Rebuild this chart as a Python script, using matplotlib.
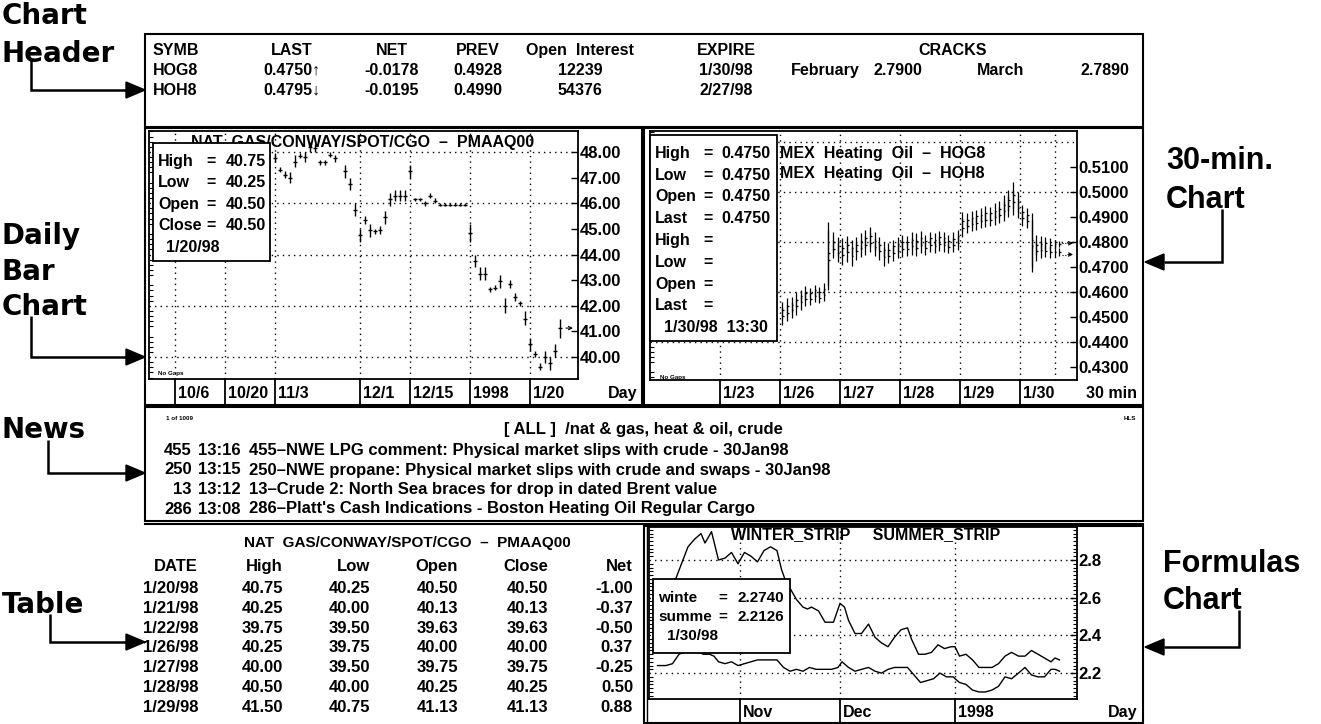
import matplotlib.pyplot as plt
import numpy as np
from matplotlib.patches import Rectangle, Polygon
from matplotlib.ticker import MultipleLocator, FormatStrFormatter
from matplotlib.transforms import blended_transform_factory, offset_copy

W, H = 1321, 724
TXT = ['Liberation Sans', 'DejaVu Sans']
NUM = ['Liberation Sans Narrow', 'Liberation Sans', 'DejaVu Sans']
plt.rcParams['font.family'] = TXT
plt.rcParams['font.weight'] = 'bold'
FS = 11.5

# ---- header quote board
hdr_symb = ['HOG8', 'HOH8']
hdr_last = ['0.4750\u2191', '0.4795\u2193']
hdr_net = ['-0.0178', '-0.0195']
hdr_prev = ['0.4928', '0.4990']
hdr_oi = ['12239', '54376']
hdr_expire = ['1/30/98', '2/27/98']
crack_months = ['February', 'March']
crack_values = ['2.7900', '2.7890']

# ---- daily bars NAT GAS/CONWAY/SPOT/CGO (slot = trading day, 11/3 = 0)
d_slot = [0, 1, 2, 3, 4, 5, 6, 7, 8, 9, 10, 11, 12,
          14, 15, 16, 17, 18, 19, 20, 21, 22, 23, 24, 25, 26, 27, 28, 29, 30,
          31, 32, 33, 34, 35, 36, 37, 38, 39, 40, 41, 42, 43, 44, 45, 46, 47,
          48, 49, 50, 51, 52, 53, 54, 55, 56, 57]
d_high = [47.95, 47.4, 47.25, 47.2, 47.9, 47.95, 48.0, 48.4, 48.3, 47.7, 47.7, 48.0, 47.9,
          47.5, 47.0, 46.0, 45.0, 45.5, 45.2, 45.0, 45.1, 45.7, 46.4, 46.5, 46.5, 46.5, 47.5,
          46.2, 46.2, 46.1, 46.4, 46.2, 46.0, 46.0, 46.0, 46.0, 46.0, 46.0, 45.2, 44.0, 43.5,
          43.5, 42.75, 42.8, 43.2, 42.3, 43.0, 42.5, 42.2, 41.8, 40.75, 40.25, 39.75, 40.25,
          40.0, 40.5, 41.5]
d_low = [47.6, 47.2, 47.0, 46.8, 47.4, 47.75, 47.6, 48.0, 48.0, 47.5, 47.5, 47.8, 47.6,
         47.0, 46.5, 45.5, 44.5, 45.2, 44.7, 44.8, 44.8, 45.2, 45.9, 46.1, 46.1, 46.1, 47.0,
         46.1, 46.1, 45.9, 46.2, 46.0, 45.9, 45.9, 45.9, 45.9, 45.9, 45.9, 44.5, 43.5, 43.0,
         43.0, 42.55, 42.6, 42.7, 41.7, 42.7, 42.2, 42.0, 41.25, 40.25, 40.0, 39.5, 39.75,
         39.5, 40.0, 40.75]
d_close = [47.75, 47.3, 47.1, 47.0, 47.6, 47.85, 47.8, 48.2, 48.15, 47.6, 47.6, 47.9, 47.75,
           47.25, 46.75, 45.75, 44.75, 45.35, 44.95, 44.9, 44.95, 45.45, 46.15, 46.3, 46.3,
           46.3, 47.25, 46.15, 46.15, 46.0, 46.3, 46.1, 45.95, 45.95, 45.95, 45.95, 45.95,
           45.95, 44.85, 43.75, 43.25, 43.25, 42.65, 42.7, 42.95, 42.0, 42.85, 42.35, 42.1,
           41.5, 40.5, 40.13, 39.63, 40.0, 39.75, 40.25, 41.13]
d_tick_pos = [-20, -10, 0, 17, 27, 39, 51]
d_tick_lab = ['10/6', '10/20', '11/3', '12/1', '12/15', '1998', '1/20']
d_info = [('High', '40.75'), ('Low', '40.25'), ('Open', '40.50'), ('Close', '40.50')]

# ---- 30-min bars (slot = half hour, 1/26 first bar = 0); A = HOH8, B = HOG8
m_hi_a = [0.4560, 0.4575, 0.4580, 0.4600, 0.4610, 0.4625, 0.4615, 0.4630, 0.4620, 0.4635, 0.4880, 0.4840, 0.4820,
          0.4815, 0.4825, 0.4810, 0.4820, 0.4835, 0.4850, 0.4860, 0.4840, 0.4820, 0.4800, 0.4795, 0.4810, 0.4820,
          0.4830, 0.4825, 0.4840, 0.4835, 0.4845, 0.4830, 0.4840, 0.4835, 0.4845, 0.4840, 0.4830, 0.4840, 0.4850,
          0.4920, 0.4915, 0.4925, 0.4930, 0.4935, 0.4945, 0.4940, 0.4955, 0.4965, 0.4990, 0.5010, 0.5040, 0.5000,
          0.4950, 0.4935, 0.4915, 0.4830, 0.4825, 0.4820, 0.4815, 0.4810, 0.4805]
m_lo_a = [0.4500, 0.4510, 0.4520, 0.4540, 0.4555, 0.4570, 0.4575, 0.4585, 0.4580, 0.4590, 0.4630, 0.4760, 0.4745,
          0.4740, 0.4755, 0.4745, 0.4760, 0.4770, 0.4780, 0.4785, 0.4770, 0.4760, 0.4740, 0.4745, 0.4755, 0.4765,
          0.4770, 0.4775, 0.4780, 0.4770, 0.4785, 0.4780, 0.4790, 0.4785, 0.4795, 0.4790, 0.4780, 0.4785, 0.4800,
          0.4845, 0.4860, 0.4870, 0.4875, 0.4880, 0.4885, 0.4890, 0.4895, 0.4900, 0.4910, 0.4925, 0.4935, 0.4920,
          0.4890, 0.4880, 0.4700, 0.4750, 0.4760, 0.4770, 0.4765, 0.4775, 0.4780]
m_hi_b = [0.4540, 0.4550, 0.4560, 0.4575, 0.4590, 0.4600, 0.4595, 0.4610, 0.4600, 0.4615, 0.4850, 0.4810, 0.4795,
          0.4790, 0.4800, 0.4785, 0.4795, 0.4810, 0.4825, 0.4835, 0.4815, 0.4795, 0.4775, 0.4770, 0.4785, 0.4795,
          0.4805, 0.4800, 0.4815, 0.4810, 0.4820, 0.4805, 0.4815, 0.4810, 0.4820, 0.4815, 0.4805, 0.4815, 0.4825,
          0.4895, 0.4890, 0.4900, 0.4905, 0.4910, 0.4920, 0.4915, 0.4930, 0.4940, 0.4965, 0.4985, 0.5010, 0.4975,
          0.4925, 0.4910, 0.4890, 0.4805, 0.4800, 0.4790, 0.4785, 0.4780, 0.4775]
m_lo_b = [0.4470, 0.4485, 0.4495, 0.4510, 0.4530, 0.4545, 0.4550, 0.4560, 0.4555, 0.4565, 0.4610, 0.4735, 0.4720,
          0.4710, 0.4720, 0.4705, 0.4730, 0.4740, 0.4750, 0.4760, 0.4745, 0.4730, 0.4705, 0.4715, 0.4725, 0.4735,
          0.4740, 0.4745, 0.4750, 0.4745, 0.4755, 0.4750, 0.4760, 0.4755, 0.4765, 0.4760, 0.4755, 0.4760, 0.4770,
          0.4820, 0.4835, 0.4845, 0.4850, 0.4855, 0.4860, 0.4865, 0.4870, 0.4875, 0.4885, 0.4900, 0.4910, 0.4895,
          0.4865, 0.4855, 0.4680, 0.4725, 0.4735, 0.4740, 0.4735, 0.4740, 0.4745]
m_last = [0.4795, 0.4750]
m_tick_pos = [-13, 0, 13, 26, 39, 52]
m_tick_lab = ['1/23', '1/26', '1/27', '1/28', '1/29', '1/30']
m_titles = ['MEX  Heating  Oil  \u2013  HOG8', 'MEX  Heating  Oil  \u2013  HOH8']
m_info = [('High', '0.4750'), ('Low', '0.4750'), ('Open', '0.4750'), ('Last', '0.4750'),
          ('High', ''), ('Low', ''), ('Open', ''), ('Last', '')]

# ---- news
news_count = '1 of 1009'
news_query = '[ ALL ]  /nat & gas, heat & oil, crude'
news_id = ['455', '250', '13', '286']
news_time = ['13:16', '13:15', '13:12', '13:08']
news_head = ['455\u2013NWE LPG comment: Physical market slips with crude - 30Jan98',
             '250\u2013NWE propane: Physical market slips with crude and swaps - 30Jan98',
             '13\u2013Crude 2: North Sea braces for drop in dated Brent value',
             "286\u2013Platt's Cash Indications - Boston Heating Oil Regular Cargo"]

# ---- table
tbl_cols = ['DATE', 'High', 'Low', 'Open', 'Close', 'Net']
tbl_date = ['1/20/98', '1/21/98', '1/22/98', '1/26/98', '1/27/98', '1/28/98', '1/29/98']
tbl_high = ['40.75', '40.25', '39.75', '40.25', '40.00', '40.50', '41.50']
tbl_low = ['40.25', '40.00', '39.50', '39.75', '39.50', '40.00', '40.75']
tbl_open = ['40.50', '40.13', '39.63', '40.00', '39.75', '40.25', '41.13']
tbl_close = ['40.50', '40.13', '39.63', '40.00', '39.75', '40.25', '41.13']
tbl_net = ['-1.00', '-0.37', '-0.50', '0.37', '-0.25', '0.50', '0.88']

# ---- formulas chart (day 0 = first trading day of Nov)
w_day = [-16.1, -14.3, -13.0, -11.7, -10.4, -9.1, -7.8, -7.0, -5.7, -4.3, -3.0, -1.7, -0.4, 0.9,
         2.2, 3.5, 4.8, 6.1, 7.4, 8.3, 9.1, 10.0, 11.3, 12.6, 13.5, 14.3, 15.7, 17.0, 18.7, 20.0,
         20.9, 21.7, 23.0, 24.3, 25.7, 27.0, 28.3, 29.6, 30.9, 32.2, 33.5, 34.3, 35.7, 37.0, 38.3,
         39.6, 40.9, 42.2, 43.0, 43.9, 45.2, 46.5, 47.8, 49.1, 50.4, 51.7, 53.0, 54.3, 55.7, 57.0,
         58.3, 59.6, 60.9, 62.2, 63.0, 63.9]
w_val = [2.54, 2.61, 2.69, 2.78, 2.87, 2.91, 2.94, 2.89, 2.95, 2.80, 2.81, 2.84, 2.78, 2.84,
         2.82, 2.79, 2.85, 2.87, 2.85, 2.75, 2.69, 2.65, 2.59, 2.55, 2.54, 2.55, 2.53, 2.47, 2.47,
         2.57, 2.55, 2.48, 2.41, 2.41, 2.46, 2.39, 2.36, 2.34, 2.39, 2.43, 2.44, 2.38, 2.30, 2.30,
         2.31, 2.35, 2.33, 2.34, 2.34, 2.29, 2.30, 2.27, 2.23, 2.23, 2.23, 2.25, 2.29, 2.31, 2.29,
         2.29, 2.32, 2.30, 2.28, 2.26, 2.28, 2.27]
s_day = [-16.5, -14.8, -13.5, -12.2, -11.3, -10.0, -8.7, -7.4, -6.1, -5.2, -4.3, -3.0, -1.7, -0.4,
         0.9, 2.2, 3.5, 4.8, 6.1, 7.4, 8.7, 10.0, 11.3, 12.6, 13.9, 15.2, 16.5, 18.3, 19.6, 20.4,
         21.7, 23.0, 24.3, 25.7, 27.0, 28.3, 29.6, 30.9, 32.2, 33.5, 34.8, 36.1, 37.4, 38.7, 40.0,
         41.3, 42.6, 43.9, 45.2, 46.5, 47.8, 49.1, 50.4, 51.7, 53.0, 54.3, 55.7, 57.0, 58.3, 59.6,
         60.9, 62.2, 63.0, 63.9]
s_val = [2.24, 2.24, 2.25, 2.30, 2.31, 2.33, 2.32, 2.30, 2.30, 2.29, 2.26, 2.25, 2.26, 2.24,
         2.25, 2.26, 2.27, 2.27, 2.27, 2.27, 2.23, 2.21, 2.22, 2.21, 2.23, 2.22, 2.22, 2.22, 2.23,
         2.26, 2.23, 2.21, 2.22, 2.23, 2.21, 2.20, 2.22, 2.23, 2.23, 2.23, 2.19, 2.15, 2.16, 2.17,
         2.20, 2.18, 2.18, 2.15, 2.14, 2.11, 2.10, 2.10, 2.11, 2.13, 2.18, 2.17, 2.20, 2.23, 2.19,
         2.18, 2.18, 2.22, 2.22, 2.21]
f_tick_pos = [0, 20, 43]
f_tick_lab = ['Nov', 'Dec', '1998']
f_info = [('winte', '2.2740'), ('summe', '2.2126')]


fig = plt.figure(figsize=(W / 100, H / 100), dpi=100)


def px_axes(x0, y0, x1, y1):
    return fig.add_axes([x0 / W, 1 - y1 / H, (x1 - x0) / W, (y1 - y0) / H])


def screen_axes():
    a = px_axes(0, 0, W, H)
    a.set_xlim(0, W)
    a.set_ylim(H, 0)
    a.axis('off')
    return a


bg = screen_axes()


def frame(x0, y0, x1, y1, lw=1.5):
    bg.add_patch(Rectangle((x0, y0), x1 - x0, y1 - y0, fill=False, ec='black', lw=lw))


def txt(x, y, s, ha='left', size=FS, fam=TXT, ax=None, **kw):
    # y is the visual middle of the capitals
    (ax or bg).text(x, y + 0.36 * size * 100 / 72, s, ha=ha, va='baseline', fontsize=size,
                    family=fam, fontweight='bold', color='black', **kw)


def pointer(path, tip, left=False):
    xs, ys = zip(*path)
    bg.plot(xs, ys, color='black', lw=1.8, solid_capstyle='butt', solid_joinstyle='miter')
    tx, ty = tip
    d = -1 if left else 1
    bg.add_patch(Polygon([(tx, ty), (tx - d * 19, ty - 8), (tx - d * 19, ty + 8)],
                         closed=True, color='black'))


# ---- side labels
for s, y in [('Chart', 14), ('Header', 52)]:
    txt(2, y, s, size=20, fam=['DejaVu Sans'])
pointer([(31, 60), (31, 90), (126, 90)], (145, 90))
for s, y in [('Daily', 234), ('Bar', 270), ('Chart', 305)]:
    txt(2, y, s, size=20, fam=['DejaVu Sans'])
pointer([(31, 316), (31, 357), (126, 357)], (145, 357))
txt(2, 428, 'News', size=20, fam=['DejaVu Sans'])
pointer([(48, 440), (48, 473), (126, 473)], (145, 473))
txt(2, 603, 'Table', size=20, fam=['DejaVu Sans'])
pointer([(50, 614), (50, 642), (126, 642)], (145, 642))

txt(1166, 158, '30-min.', size=22)
txt(1166, 197, 'Chart', size=22)
pointer([(1222, 209), (1222, 262), (1164, 262)], (1145, 262), left=True)
txt(1163, 561, 'Formulas', size=22)
txt(1163, 598, 'Chart', size=22)
pointer([(1239, 610), (1239, 647), (1164, 647)], (1145, 647), left=True)

# ---- panel frames
frame(145, 34, 1143, 127)
frame(145, 128, 642, 405)
frame(644, 128, 1143, 405)
frame(145, 407, 1143, 521)
bg.plot([145, 1143], [524, 524], color='black', lw=1.5)
frame(644, 526, 1143, 723)
bg.plot([647, 647], [527, 723], color='black', lw=1.0)

# ---- header board
hdr_y = [49, 69, 89]
txt(153, hdr_y[0], 'SYMB')
for i in range(2):
    txt(153, hdr_y[i + 1], hdr_symb[i])
cols = [(292, 'LAST', hdr_last), (392, 'NET', hdr_net), (478, 'PREV', hdr_prev),
        (580, 'Open  Interest', hdr_oi), (726, 'EXPIRE', hdr_expire)]
for xc, title, vals in cols:
    txt(xc, hdr_y[0], title, ha='center')
    for i, v in enumerate(vals):
        txt(xc, hdr_y[i + 1], v, ha='center')
txt(953, hdr_y[0], 'CRACKS', ha='center')
for xm, xv, m, v in zip([825, 1001], [898, 1105], crack_months, crack_values):
    txt(xm, hdr_y[1], m, ha='center')
    txt(xv, hdr_y[1], v, ha='center')


def chart(box, xlim, ylim, major, fmt, minor, minor_right, grid_y, grid_x):
    ax = px_axes(*box)
    ax.set_facecolor('none')
    ax.set_xlim(*xlim)
    ax.set_ylim(*ylim)
    for sp in ax.spines.values():
        sp.set_linewidth(1.3)
    ax.set_xticks([])
    ax.set_yticks(major)
    ax.yaxis.set_major_formatter(FormatStrFormatter(fmt))
    ax.yaxis.set_minor_locator(MultipleLocator(minor))
    ax.tick_params(axis='y', which='major', direction='in', length=5, width=1,
                   left=False, right=True, labelleft=False, labelright=True, pad=1,
                   labelsize=12, labelfontfamily=NUM)
    ax.tick_params(axis='y', which='minor', direction='in', length=3, width=0.8,
                   left=True, right=minor_right)
    for g in grid_y:
        ax.axhline(g, color='black', lw=1, ls=(0, (1, 3)))
    for g in grid_x:
        ax.axvline(g, color='black', lw=1, ls=(0, (1, 3)))
    return ax


def x_strip(ax, pos, labels, y_top, y_bot, unit, x_unit):
    tr = blended_transform_factory(ax.transData, bg.transData)
    lab_tr = offset_copy(tr, fig=fig, x=3, y=-0.36 * FS * 100 / 72, units='dots')
    ym = (y_top + y_bot) / 2
    for p, lab in zip(pos, labels):
        ax.plot([p, p], [y_top, y_bot], transform=tr, color='black', lw=1.3, clip_on=False)
        ax.text(p, ym, lab, transform=lab_tr, ha='left', va='baseline', fontsize=FS,
                fontweight='bold', clip_on=False)
    txt(x_unit, ym, unit, ha='right')


# ---- daily bar chart
dax = chart((149, 131, 578, 379), (-25.2, 60.6), (39.144, 48.817), np.arange(40, 48.5, 1),
            '%.2f', 0.2, False, [40, 42, 44, 46, 48], d_tick_pos)
ds = np.array(d_slot)
dax.vlines(ds, d_low, d_high, color='black', lw=1)
dax.hlines(d_close, ds - 0.35, ds + 0.35, color='black', lw=1)
dax.annotate('', xy=(ds[-1] + 2.6, d_close[-1]), xytext=(ds[-1] + 1.2, d_close[-1]),
             arrowprops=dict(arrowstyle='->', lw=0.8, color='black', shrinkA=0, shrinkB=0,
                             mutation_scale=6))
x_strip(dax, d_tick_pos, d_tick_lab, 379, 405, 'Day', 637)
txt(363, 141, 'NAT  GAS/CONWAY/SPOT/CGO  \u2013  PMAAQ00', ha='center')
txt(158, 373, 'No Gaps', size=4.5)

# ---- 30-min chart
hax = chart((650, 131, 1077, 380), (-28.17, 64.35), (0.4248, 0.5244),
            np.arange(0.43, 0.5101, 0.01), '%.4f', 0.002, False,
            [0.44, 0.46, 0.48, 0.50, 0.52], m_tick_pos + [59.6])
mt = np.arange(len(m_hi_a)) + 0.5
for hi, lo in ((m_hi_a, m_lo_a), (m_hi_b, m_lo_b)):
    hi, lo = np.array(hi), np.array(lo)
    hax.vlines(mt, lo, hi, color='black', lw=0.9)
    hax.hlines((hi + lo) / 2, mt, mt + 0.35, color='black', lw=0.9)
for v in m_last:
    hax.plot([mt[-1] + 0.6, mt[-1] + 2.0], [v, v], color='black', lw=0.8, ls=(0, (1, 1.5)))
    hax.annotate('', xy=(mt[-1] + 3.0, v), xytext=(mt[-1] + 1.9, v),
                 arrowprops=dict(arrowstyle='->', lw=0.8, color='black', shrinkA=0,
                                 shrinkB=0, mutation_scale=6))
x_strip(hax, m_tick_pos, m_tick_lab, 380, 405, '30 min', 1137)
txt(780, 152, m_titles[0])
txt(780, 172, m_titles[1])
txt(660, 377, 'No Gaps', size=4.5)

# ---- news
txt(166, 418, news_count, size=4.5)
txt(1136, 418, 'HLS', ha='right', size=4.5)
txt(643, 428, news_query, ha='center', size=12)
for i, (nid, tm, head) in enumerate(zip(news_id, news_time, news_head)):
    y = 449 + i * 19.5
    txt(192, y, nid, ha='right', size=12)
    txt(198, y, tm, size=12)
    txt(249, y, head, size=12)

# ---- table
txt(407, 542, 'NAT  GAS/CONWAY/SPOT/CGO  \u2013  PMAAQ00', ha='center', size=11)
col_right = [198, 283, 370, 458, 548, 633]
for xr, name in zip(col_right, tbl_cols):
    txt(xr, 565, name, ha='right', fam=NUM, size=12)
for i, row in enumerate(zip(tbl_date, tbl_high, tbl_low, tbl_open, tbl_close, tbl_net)):
    for xr, v in zip(col_right, row):
        txt(xr, 587 + i * 19.8, v, ha='right', fam=NUM, size=12)

# ---- formulas chart
fax = chart((649, 527, 1077, 699), (-18.2, 67.4), (2.0626, 2.975), [2.2, 2.4, 2.6, 2.8],
            '%.1f', 0.02, True, [2.2, 2.4, 2.6, 2.8], f_tick_pos)
fax.plot(w_day, w_val, color='black', lw=1)
fax.plot(s_day, s_val, color='black', lw=1)
x_strip(fax, f_tick_pos, f_tick_lab, 699, 723, 'Day', 1137)
txt(731, 533, 'WINTER_STRIP     SUMMER_STRIP')

# ---- info boxes drawn over the charts
ov = screen_axes()


def info_box(x0, y0, x1, y1, rows, xl, xeq, xv, y_first, dy, date, xd, size=FS):
    ov.add_patch(Rectangle((x0, y0), x1 - x0, y1 - y0, fc='white', ec='black', lw=1.3))
    for i, (name, val) in enumerate(rows):
        y = y_first + i * dy
        txt(xl, y, name, ax=ov, size=size)
        txt(xeq, y, '=', ax=ov, size=size)
        if val:
            txt(xv, y, val, ha='right', ax=ov, size=size)
    txt(xd, y_first + len(rows) * dy, date, ax=ov, size=size)


info_box(153, 143, 270, 261, d_info, 158, 206, 266, 160, 21.5, '1/20/98', 166)
info_box(650, 135, 777, 341, m_info, 655, 703, 771, 152, 21.8, '1/30/98  13:30', 664)
info_box(653, 579, 790, 653, f_info, 658, 718, 784, 596, 19.5, '1/30/98', 667, size=11)

fig.savefig('out.png', dpi=100, facecolor='white')
